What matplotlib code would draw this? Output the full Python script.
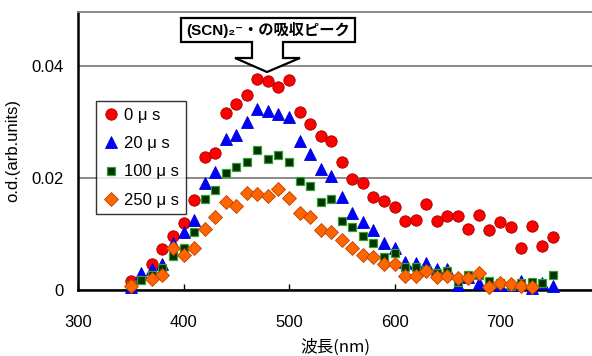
import numpy as np
import matplotlib
matplotlib.use("Agg")
import matplotlib.pyplot as plt
from matplotlib.patches import Polygon

plt.rcParams['font.family'] = ['Liberation Sans', 'Noto Sans CJK JP', 'DejaVu Sans']

nan = np.nan
wavelength = list(range(350, 760, 10))

od_0us = [0.0016, nan, 0.0046, 0.0073, 0.0096, 0.0120, 0.0161, 0.0238, 0.0245, 0.0316,
          0.0332, 0.0348, 0.0377, 0.0373, 0.0363, 0.0375, 0.0318, 0.0296, 0.0275, 0.0266,
          0.0229, 0.0198, 0.0191, 0.0166, 0.0159, 0.0148, 0.0123, 0.0125, 0.0154, 0.0123,
          0.0132, 0.0132, 0.0109, 0.0134, 0.0107, 0.0121, 0.0112, 0.0075, 0.0114, 0.0079,
          0.0095]
od_20us = [0.0005, 0.0030, 0.0038, 0.0046, 0.0084, 0.0104, 0.0125, 0.0191, 0.0211, 0.0270,
           0.0277, 0.0300, 0.0323, 0.0320, 0.0314, 0.0309, 0.0266, 0.0243, 0.0216, 0.0204,
           0.0166, 0.0138, 0.0121, 0.0107, 0.0084, 0.0075, 0.0050, 0.0048, 0.0048, 0.0038,
           0.0038, 0.0009, 0.0023, 0.0013, 0.0013, 0.0009, 0.0009, 0.0016, 0.0004, 0.0013,
           0.0007]
od_100us = [0.0009, 0.0018, 0.0027, 0.0039, 0.0061, 0.0075, 0.0104, 0.0163, 0.0179, 0.0209,
            0.0220, 0.0229, 0.0250, 0.0234, 0.0241, 0.0229, 0.0195, 0.0186, 0.0157, 0.0163,
            0.0123, 0.0113, 0.0096, 0.0084, 0.0059, 0.0066, 0.0041, 0.0041, 0.0036, 0.0030,
            0.0034, 0.0014, 0.0027, 0.0027, 0.0016, 0.0013, 0.0007, 0.0013, 0.0014, 0.0013,
            0.0027]
od_250us = [0.0007, nan, 0.0020, 0.0027, 0.0075, 0.0063, 0.0075, 0.0109, 0.0130, 0.0157,
            0.0150, 0.0173, 0.0171, 0.0168, 0.0180, 0.0164, 0.0138, 0.0130, 0.0107, 0.0104,
            0.0089, 0.0075, 0.0063, 0.0059, 0.0046, 0.0046, 0.0025, 0.0025, 0.0034, 0.0023,
            0.0025, 0.0021, 0.0021, 0.0030, 0.0005, 0.0013, 0.0011, 0.0007, 0.0005, nan,
            nan]

series_labels = ['0 μ s', '20 μ s', '100 μ s', '250 μ s']
x_ticks = [300, 400, 500, 600, 700]
y_ticks = [0, 0.02, 0.04]
y_tick_labels = ['0', '0.02', '0.04']

W, H = 592, 356
fig = plt.figure(figsize=(W / 100, H / 100), dpi=100)
ax = fig.add_axes([78 / W, 1 - 290 / H, 514 / W, 278 / H])

styles = [
    dict(marker='o', ms=8.2, mfc='#FF0000', mec='#A00000', mew=0.6),
    dict(marker='^', ms=8.5, mfc='#0000FF', mec='#0000CC', mew=0.6),
    dict(marker='s', ms=5.6, mfc='#003300', mec='#33A033', mew=0.9),
    dict(marker='D', ms=7.0, mfc='#FF6600', mec='#C04000', mew=0.6),
]
for vals, lab, st in zip([od_0us, od_20us, od_100us, od_250us], series_labels, styles):
    ax.plot(wavelength, vals, linestyle='none', label=lab, clip_on=False, zorder=3, **st)

ax.set_xlim(300, 300 + 514 / 1.055)
ax.set_ylim(0, 278 / 5600)
ax.set_xticks(x_ticks)
ax.set_yticks(y_ticks)
ax.set_yticklabels(y_tick_labels)
ax.yaxis.grid(True, color='#808080', linewidth=1.3)
ax.set_axisbelow(True)
ax.spines['right'].set_visible(False)
ax.spines['top'].set_color('#808080')
ax.spines['top'].set_linewidth(1.3)
ax.spines['left'].set_linewidth(1.8)
ax.spines['bottom'].set_linewidth(1.8)
ax.tick_params(axis='x', direction='in', length=4, width=1, pad=18, labelsize=12, colors='black')
ax.tick_params(axis='y', length=0, pad=10, labelsize=12)

ax.set_xlabel('波長(nm)', fontsize=12, labelpad=6,
              family=['Noto Sans CJK JP', 'DejaVu Sans'])
ax.set_ylabel('o.d.(arb.units)', fontsize=12, labelpad=8)

leg = ax.legend(loc='upper left', bbox_to_anchor=(18 / 514, 1 - 89 / 278), fontsize=12,
                frameon=True, fancybox=False, edgecolor='black', borderpad=0.4,
                handletextpad=0.3, handlelength=1.0, labelspacing=0.8, borderaxespad=0)
leg.get_frame().set_linewidth(1.0)

# callout shape (figure pixel coords -> figure fraction)
pts_px = [(181, 18), (355, 18), (355, 42), (283, 42), (283, 58), (300, 58), (267, 72),
          (235, 58), (252, 58), (252, 42), (181, 42)]
pts = [(x / W, 1 - y / H) for x, y in pts_px]
fig.patches.append(Polygon(pts, closed=True, facecolor='white', edgecolor='black',
                           linewidth=1.6, transform=fig.transFigure, zorder=5))
fig.text(268 / W, 1 - 30 / H, '(SCN)₂⁻・の吸収ピーク', ha='center', va='center',
         fontsize=11, fontweight='bold', zorder=6,
         family=['Liberation Sans', 'Noto Sans CJK JP', 'DejaVu Sans'])

fig.savefig('out.png', dpi=100)
